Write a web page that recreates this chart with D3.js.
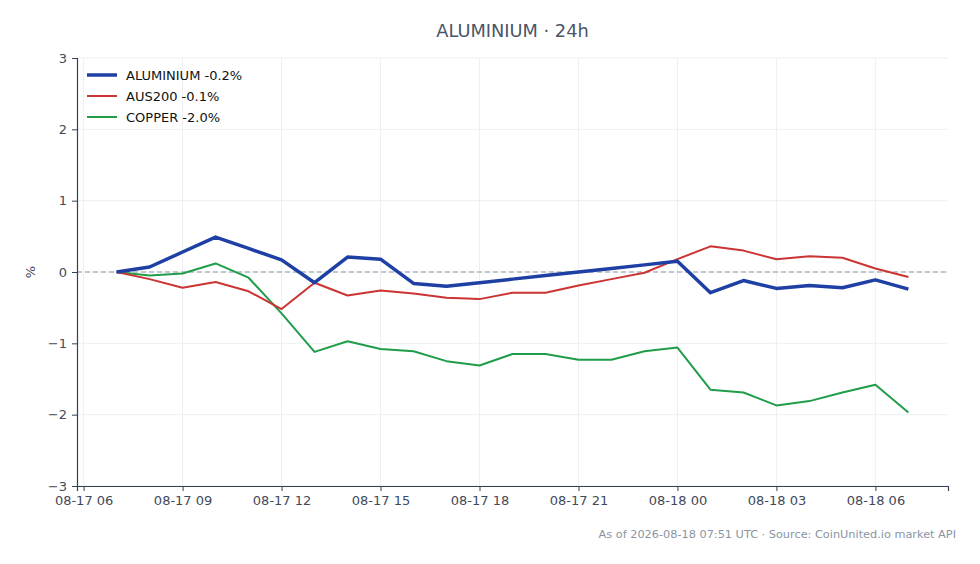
<!DOCTYPE html>
<html>
<head>
<meta charset="utf-8">
<script src="https://cdn.jsdelivr.net/npm/d3@7"></script>
<style>
  body { margin: 0; background: #fff; }
  svg, svg text { font-family: "DejaVu Sans", sans-serif; }
</style>
</head>
<body>
<svg width="980" height="564"></svg>
<script>
// hourly points, 08-17 07:00 -> 08-18 07:00 UTC
const startTime = "2026-08-17T07:00:00Z";
const hours = d3.range(25);

const aluminium = [0, 0.07, 0.28, 0.49, 0.33, 0.17, -0.15, 0.21, 0.18, -0.16, -0.2, -0.15, -0.1,
  -0.05, 0.0, 0.05, 0.1, 0.15, -0.29, -0.12, -0.23, -0.19, -0.22, -0.11, -0.24];
const aus200 = [0, -0.1, -0.22, -0.14, -0.27, -0.52, -0.15, -0.33, -0.26, -0.3, -0.36, -0.38, -0.29,
  -0.29, -0.19, -0.1, -0.01, 0.18, 0.36, 0.3, 0.18, 0.22, 0.2, 0.05, -0.07];
const copper = [0, -0.05, -0.02, 0.12, -0.08, -0.58, -1.12, -0.97, -1.08, -1.11, -1.25, -1.31, -1.15,
  -1.15, -1.23, -1.23, -1.11, -1.06, -1.65, -1.69, -1.87, -1.81, -1.69, -1.58, -1.97];

const seriesNames = ["ALUMINIUM -0.2%", "AUS200 -0.1%", "COPPER -2.0%"];
const yTicks = [-3, -2, -1, 0, 1, 2, 3];

const svg = d3.select("svg"),
      margin = { top: 58, right: 32, bottom: 78, left: 77 },
      width = +svg.attr("width") - margin.left - margin.right,
      height = +svg.attr("height") - margin.top - margin.bottom;

const t0 = new Date(startTime);
const times = hours.map(h => new Date(t0.getTime() + h * 3600e3));
const pad = 1.2 * 3600e3; // 5% margin on each side

const x = d3.scaleUtc()
  .domain([new Date(times[0] - pad), new Date(+times[times.length - 1] + pad)])
  .range([0, width]);
const y = d3.scaleLinear().domain([-3, 3]).range([height, 0]);

const g = svg.append("g").attr("transform", `translate(${margin.left},${margin.top})`);

const xTicks = d3.utcHour.every(3).range(new Date(Date.UTC(2026, 7, 17, 6)), new Date(Date.UTC(2026, 7, 18, 7)));
const fmt = d3.utcFormat("%m-%d %H");

// grid
g.append("g").selectAll("line").data(xTicks).join("line")
  .attr("x1", d => x(d)).attr("x2", d => x(d))
  .attr("y1", 0).attr("y2", height)
  .attr("stroke", "#e8ebef").attr("stroke-width", 0.8);
g.append("g").selectAll("line").data(yTicks).join("line")
  .attr("x1", 0).attr("x2", width)
  .attr("y1", d => y(d)).attr("y2", d => y(d))
  .attr("stroke", "#e8ebef").attr("stroke-width", 0.8);

// zero line
g.append("line")
  .attr("x1", 0).attr("x2", width).attr("y1", y(0)).attr("y2", y(0))
  .attr("stroke", "#8c99ad").attr("stroke-width", 1).attr("stroke-dasharray", "5,3");

// axes
const xAxis = g.append("g").attr("transform", `translate(0,${height})`)
  .call(d3.axisBottom(x).tickValues(xTicks).tickFormat(fmt).tickSize(5).tickPadding(5));
const yAxis = g.append("g")
  .call(d3.axisLeft(y).tickValues(yTicks).tickFormat(d3.format("d")).tickSize(5).tickPadding(5));
[xAxis, yAxis].forEach(a => {
  a.attr("font-family", "DejaVu Sans, sans-serif").attr("font-size", 13);
  a.select(".domain").attr("stroke", "#334155").attr("stroke-width", 1.2);
  a.selectAll(".tick line").attr("stroke", "#334155");
  a.selectAll(".tick text").attr("fill", "#3f4a5a");
});
yAxis.selectAll(".tick text").text(d => d < 0 ? "\u2212" + Math.abs(d) : d);

// lines
const series = [
  { name: seriesNames[0], values: aluminium, color: "#1e3fa3", w: 3.5 },
  { name: seriesNames[1], values: aus200, color: "#cc3333", w: 2 },
  { name: seriesNames[2], values: copper, color: "#1f9d49", w: 2 }
];
const line = d3.line().x((d, i) => x(times[i])).y(d => y(d));

g.selectAll(".series").data(series.slice().reverse()).join("path")
  .attr("class", "series")
  .attr("d", d => line(d.values))
  .attr("fill", "none")
  .attr("stroke", d => d.color)
  .attr("stroke-width", d => d.w)
  .attr("stroke-linejoin", "round");

// legend
const legend = g.append("g").attr("transform", "translate(10,17)");
series.forEach((s, i) => {
  legend.append("line")
    .attr("x1", 0).attr("x2", 30).attr("y1", i * 21).attr("y2", i * 21)
    .attr("stroke", s.color).attr("stroke-width", s.w);
  legend.append("text")
    .attr("x", 39).attr("y", i * 21 + 4.5)
    .attr("font-size", 13).attr("fill", "#111")
    .text(s.name);
});

// title, labels
svg.append("text")
  .attr("x", margin.left + width / 2).attr("y", 37)
  .attr("text-anchor", "middle").attr("font-size", 17.8).attr("fill", "#4a5568")
  .text("ALUMINIUM \u00b7 24h");

svg.append("text")
  .attr("transform", `translate(35,${margin.top + y(0)}) rotate(-90)`)
  .attr("text-anchor", "middle").attr("font-size", 13).attr("fill", "#3f4a5a")
  .text("%");

svg.append("text")
  .attr("x", 956).attr("y", 538)
  .attr("text-anchor", "end").attr("font-size", 11.3).attr("fill", "#8a94a3")
  .text("As of 2026-08-18 07:51 UTC \u00b7 Source: CoinUnited.io market API");
</script>
</body>
</html>
